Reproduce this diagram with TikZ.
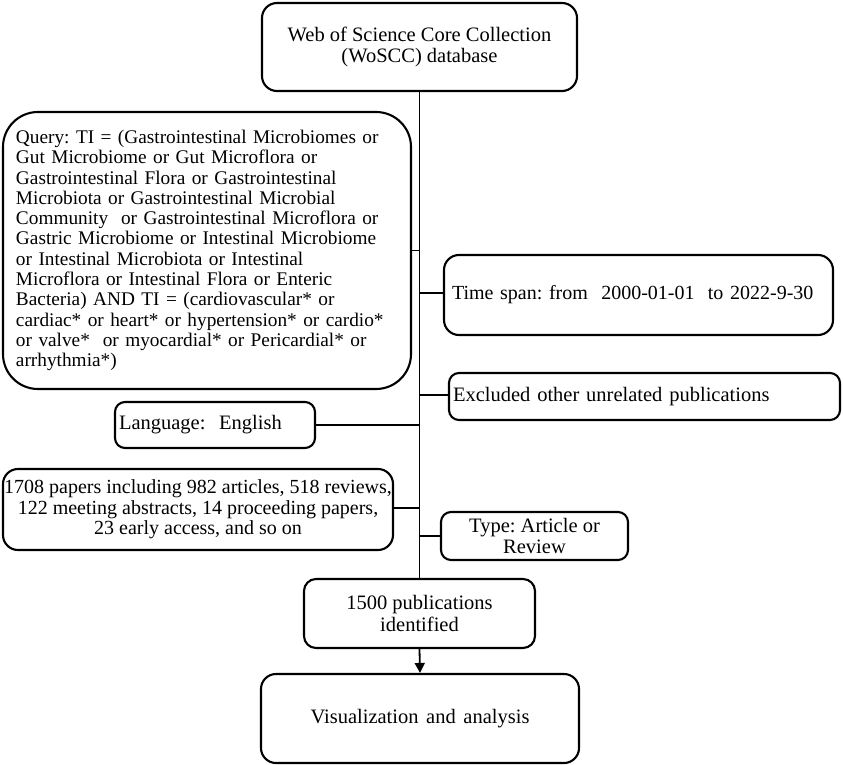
\documentclass[tikz,border=0pt]{standalone}
\usepackage{fontspec}
\setmainfont{Liberation Serif}
\usetikzlibrary{arrows.meta}
\begin{document}
\frenchspacing
\begin{tikzpicture}[x=1pt,y=-1pt,
  box/.style={draw,line width=2.1pt,rounded corners=#1,inner sep=0pt,font=\fontsize{20.5}{21.7}\selectfont},
  box/.default=12pt,
  conn/.style={line width=1.8pt}]
\useasboundingbox (0,0) rectangle (843,765);
% top
\node[box=15pt,minimum width=315pt,minimum height=88pt,align=center] (wos) at (419.5,47) {Web of Science Core Collection\\(WoSCC) database};
% query
\node[box=35pt,minimum width=408pt,minimum height=277pt,text width=382pt,align=left,font=\fontsize{19.3}{20.3}\selectfont] (q) at (207,250.5) {Query: TI = (Gastrointestinal Microbiomes or\\
Gut Microbiome or Gut Microflora or\\
Gastrointestinal Flora or Gastrointestinal\\
Microbiota or Gastrointestinal Microbial\\
Community\ \ or Gastrointestinal Microflora or\\
Gastric Microbiome or Intestinal Microbiome\\
or Intestinal Microbiota or Intestinal\\
Microflora or Intestinal Flora or Enteric\\
Bacteria) AND TI = (cardiovascular* or\\
cardiac* or heart* or hypertension* or cardio*\\
or valve*\ \ or myocardial* or Pericardial* or\\
arrhythmia*)};
% time span
\node[box=15pt,minimum width=389pt,minimum height=80pt,text width=373pt,align=left,font=\fontsize{20}{21.7}\selectfont] (ts) at (638.5,295) {Time span: from\ \ 2000-01-01\ \ to 2022-9-30};
% excluded
\node[box=10pt,minimum width=391pt,minimum height=47pt,text width=383pt,align=left] (ex) at (644.5,396.5) {Excluded\ other\ unrelated\ publications};
% language
\node[box=10pt,minimum width=200pt,minimum height=46pt,text width=192pt,align=left] (lang) at (215,425) {Language:\ \ English};
% 1708
\node[box=15pt,minimum width=390pt,minimum height=81pt,align=center,font=\fontsize{20}{20.3}\selectfont] (p1708) at (198,509.5) {1708 papers including 982 articles, 518 reviews,\\122 meeting abstracts, 14 proceeding papers,\\23 early access, and so on};
% type
\node[box=10pt,minimum width=187pt,minimum height=48pt,align=center] (type) at (534.5,536) {Type:\ Article\ or\\Review};
% 1500
\node[box=12pt,minimum width=231pt,minimum height=69pt,align=center] (p1500) at (419.5,613.5) {1500\ publications\\identified};
% vis
\node[box=15pt,minimum width=318pt,minimum height=89pt,align=center] (vis) at (420,718.5) {Visualization\hspace{2.5pt} and\hspace{2.5pt} analysis};
% connectors
\draw[conn] (wos.south) -- (p1500.north);
\coordinate (jq) at (wos.south |- q.east);
\coordinate (jts) at (wos.south |- 0,293);
\coordinate (jex) at (wos.south |- 0,395);
\coordinate (jl) at (wos.south |- lang.east);
\coordinate (jp) at (wos.south |- 0,508);
\coordinate (jt) at (wos.south |- type.west);
\draw[conn] (q.east) -- (jq);
\draw[conn] (jts) -- (ts.west |- jts);
\draw[conn] (jex) -- (ex.west |- jex);
\draw[conn] (lang.east) -- (jl);
\draw[conn] (p1708.east |- jp) -- (jp);
\draw[conn] (jt) -- (type.west);
\draw[conn,-{Triangle[length=10pt,width=10pt]}] (p1500.south) -- (vis.north);
\end{tikzpicture}
\end{document}
